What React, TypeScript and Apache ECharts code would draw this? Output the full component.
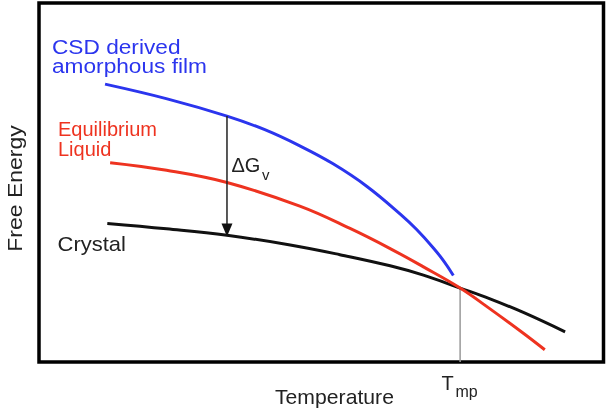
import React, { useEffect, useRef } from "react";
import * as echarts from "echarts";

// Temperature (x) and free energy (y) in arbitrary units (0–100)
const amorphousT = [11.7, 22.7, 33.3, 40.0, 46.2, 52.1, 58.1, 64.0, 66.9, 69.9, 71.8, 73.4];
const amorphousG = [77.4, 73.3, 68.5, 64.7, 60.2, 55.2, 48.9, 41.2, 36.9, 31.7, 27.9, 24.1];

const liquidT = [12.6, 22.6, 33.3, 46.2, 55.1, 62.2, 68.1, 74.6, 79.9, 85.8, 89.6];
const liquidG = [55.5, 53.4, 50.0, 43.4, 37.2, 31.6, 26.5, 20.6, 14.8, 8.0, 3.4];

const crystalT = [12.1, 22.6, 33.3, 44.5, 53.3, 62.2, 68.1, 74.6, 79.9, 85.8, 93.2];
const crystalG = [38.6, 37.1, 35.3, 32.6, 29.9, 26.8, 24.2, 20.6, 17.6, 13.8, 8.4];

const meltT = 74.6; // T_mp
const meltG = 20.6;
const arrowT = 33.3;
const arrowTopG = 68.5;
const arrowTipG = 36.8;

const FONT = "Liberation Sans, Arial, Helvetica, sans-serif";
const BLUE = "#2b35ee";
const RED = "#ee3320";

const zip = (xs: number[], ys: number[]) => xs.map((x, i) => [x, ys[i]]);

function txt(
  text: string,
  x: number,
  baseline: number,
  fs: number,
  color: string,
  scaleX = 1,
  extra: any = {}
) {
  return {
    type: "text",
    x,
    y: baseline - 0.35 * fs,
    scaleX,
    style: {
      text,
      fill: color,
      font: `${fs}px ${FONT}`,
      align: "left",
      verticalAlign: "middle",
    },
    ...extra,
  };
}

export default function App() {
  const ref = useRef<HTMLDivElement>(null);
  useEffect(() => {
    if (!ref.current) return;
    const chart = echarts.init(ref.current, undefined, { renderer: "svg" });
    chart.setOption({
      animation: false,
      grid: {
        left: 39,
        right: 10.5,
        top: 3,
        bottom: 52,
        show: true,
        borderColor: "#000",
        borderWidth: 3.5,
        backgroundColor: "#fff",
      },
      xAxis: {
        type: "value",
        min: 0,
        max: 100,
        axisLine: { show: false },
        axisTick: { show: false },
        axisLabel: { show: false },
        splitLine: { show: false },
      },
      yAxis: {
        type: "value",
        min: 0,
        max: 100,
        axisLine: { show: false },
        axisTick: { show: false },
        axisLabel: { show: false },
        splitLine: { show: false },
      },
      series: [
        {
          type: "line",
          data: [
            [meltT, meltG],
            [meltT, 0],
          ],
          symbol: "none",
          lineStyle: { color: "#999", width: 1.5 },
          z: 1,
        },
        {
          type: "line",
          data: zip(crystalT, crystalG),
          smooth: 0.4,
          symbol: "none",
          lineStyle: { color: "#111", width: 3 },
          z: 2,
        },
        {
          type: "line",
          data: zip(liquidT, liquidG),
          smooth: 0.4,
          symbol: "none",
          lineStyle: { color: RED, width: 3 },
          z: 3,
        },
        {
          type: "line",
          data: zip(amorphousT, amorphousG),
          smooth: 0.4,
          symbol: "none",
          lineStyle: { color: BLUE, width: 3 },
          z: 4,
        },
        {
          type: "line",
          showAllSymbol: true,
          data: [
            { value: [arrowT, arrowTopG], symbol: "none" },
            {
              value: [arrowT, arrowTipG],
              symbol: "triangle",
              symbolRotate: 180,
              symbolSize: [11, 13],
            },
          ],
          lineStyle: { color: "#222", width: 1.5 },
          itemStyle: { color: "#111" },
          z: 5,
        },
      ],
      graphic: [
        txt("CSD derived", 52, 54, 21, BLUE, 1.08),
        txt("amorphous film", 52, 73, 21, BLUE, 1.08),
        txt("Equilibrium", 58, 136, 20, RED, 1.0),
        txt("Liquid", 58, 156, 20, RED, 1.0),
        txt("Crystal", 57.5, 251, 20, "#222", 1.1),
        txt("\u0394G", 231.5, 172.3, 20, "#222", 1.0),
        txt("v", 262, 180, 15, "#222", 1.0),
        txt("Temperature", 275, 404, 20, "#222", 1.06),
        txt("T", 441.5, 390, 20, "#222", 1.0),
        txt("mp", 455.5, 397, 16, "#222", 1.0),
        {
          type: "text",
          x: 22 - 0.35 * 20,
          y: 188.5,
          rotation: Math.PI / 2,
          scaleX: 1.15,
          style: {
            text: "Free Energy",
            fill: "#222",
            font: `20px ${FONT}`,
            align: "center",
            verticalAlign: "middle",
          },
        },
      ],
    });
    return () => chart.dispose();
  }, []);
  return <div ref={ref} style={{ width: 614, height: 414, position: "fixed", left: 0, top: 0 }} />;
}
